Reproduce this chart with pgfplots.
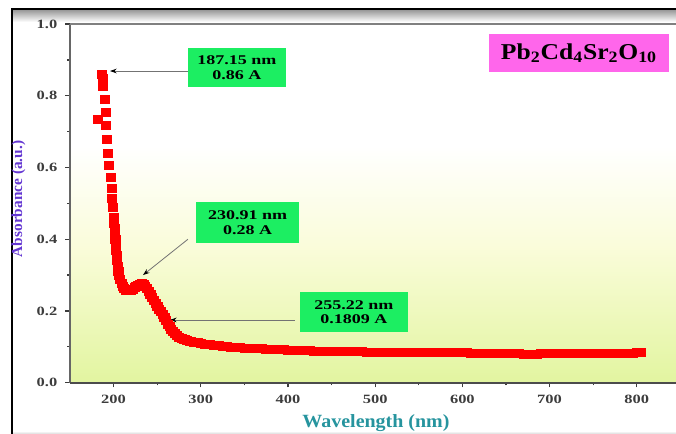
\documentclass[border=0pt]{standalone}
\usepackage{fontspec}
\setmainfont{Liberation Serif}
\usepackage{pgfplots}
\pgfplotsset{compat=1.18}
\usetikzlibrary{arrows.meta}
\definecolor{bgbot}{RGB}{226,245,160}
\definecolor{bgmid}{RGB}{250,252,218}
\definecolor{boxgreen}{RGB}{28,238,98}
\definecolor{boxpink}{RGB}{255,102,235}
\definecolor{ylabcol}{RGB}{100,55,210}
\definecolor{xlabcol}{RGB}{38,148,158}
\definecolor{tickcol}{RGB}{60,60,60}
\pgfdeclareverticalshading{bgshade}{100bp}{color(0bp)=(bgbot); color(25bp)=(bgbot); color(44bp)=(bgmid); color(58bp)=(white); color(100bp)=(white)}
\begin{document}
\begin{tikzpicture}
\useasboundingbox (0,0) rectangle (507pt,325.5pt);
\begin{scope}[x=0.75pt,y=0.75pt]
\shade[top color=black!40, bottom color=white] (12,412) rectangle (676,424);
\shade[top color=white, bottom color=black!15] (12,0) rectangle (676,3);
\draw[line width=1.8pt] (12,0) -- (12,425) -- (676,425);
\end{scope}
\begin{axis}[
  at={(52.5pt,38.475pt)}, anchor=south west,
  scale only axis, width=454.5pt, height=269pt,
  xmin=150, xmax=845, ymin=0, ymax=1,
  axis background/.style={shading=bgshade},
  axis line style={draw=none},
  xtick={200,300,...,800}, ytick={0,0.2,...,1.0},
  minor x tick num=1, minor y tick num=1,
  xtick pos=bottom, ytick pos=left,
  tick align=outside,
  major tick length=3.5pt, minor tick length=2pt,
  every tick/.style={tickcol, line width=1pt},
  scaled x ticks=false, scaled y ticks=false,
  /pgf/number format/assume math mode=true,
  ticklabel style={font=\bfseries\fontsize{9.5}{11}\selectfont, text=tickcol},
  xticklabel style={yshift=-2pt},
  yticklabel style={xshift=-2.5pt},
  xticklabel={\scalebox{1.3}[1]{\pgfmathprintnumber{\tick}}},
  yticklabel={\scalebox{1.3}[1]{\pgfmathprintnumber[fixed,fixed zerofill,precision=1]{\tick}}},
  clip=false,
]
\draw[black!60, line width=1.6pt] (rel axis cs:0,0) -- (rel axis cs:0,1);
\draw[black!50, line width=1.6pt] (rel axis cs:0,1) -- (rel axis cs:1,1);
\draw[black!70, line width=1.3pt] (rel axis cs:0,0) -- (rel axis cs:1,0);
\addplot[only marks, mark=square*, mark size=3pt, color=red, mark options={xscale=1.15}] table {
182 0.735
186.5 0.860
187.5 0.850
188 0.826
190 0.791
191 0.755
191.2 0.718
192.4 0.679
193.6 0.640
194.7 0.606
196.5 0.573
197.5 0.543
198.2 0.515
199 0.490
200 0.462
200.6 0.445
201 0.430
201.4 0.415
201.8 0.400
202.2 0.385
202.7 0.370
203.2 0.355
203.8 0.340
204.5 0.325
205.3 0.312
206.3 0.300
207.5 0.288
209 0.276
210.5 0.268
212 0.262
214 0.259
216 0.257
218 0.257
220 0.258
222 0.261
224 0.265
226 0.269
228 0.273
230 0.275
232 0.276
234 0.274
236 0.270
238 0.264
240 0.256
242 0.247
244 0.238
246 0.230
248 0.222
250 0.214
252 0.206
254 0.198
256 0.190
258 0.182
260 0.173
262 0.164
264 0.156
266 0.149
268 0.143
270 0.138
272 0.133
275 0.128
278 0.124
281 0.121
284 0.118
288 0.116
292 0.114
296 0.112
300 0.110
305 0.108
310 0.106
315 0.105
320 0.103
325 0.102
330 0.101
335 0.100
340 0.099
345 0.098
350 0.097
355 0.0965
360 0.096
365 0.0955
370 0.095
375 0.0945
380 0.094
385 0.093
390 0.0925
395 0.092
400 0.091
405 0.091
410 0.0905
415 0.0905
420 0.090
425 0.090
430 0.089
435 0.089
440 0.0885
445 0.0885
450 0.088
455 0.088
460 0.0875
465 0.0875
470 0.087
475 0.087
480 0.0865
485 0.0865
490 0.086
495 0.086
500 0.086
505 0.0855
510 0.0855
515 0.085
520 0.085
525 0.085
530 0.0848
535 0.0848
540 0.0845
545 0.0845
550 0.0843
555 0.0843
560 0.0842
565 0.0842
570 0.084
575 0.084
580 0.084
585 0.084
590 0.0838
595 0.0838
600 0.0835
605 0.0835
610 0.0833
615 0.0833
620 0.083
625 0.083
630 0.0828
635 0.0828
640 0.0825
645 0.0822
650 0.082
655 0.0818
660 0.0815
665 0.081
670 0.0805
675 0.080
680 0.080
685 0.0805
690 0.081
695 0.081
700 0.0812
705 0.0815
710 0.0815
715 0.0818
720 0.082
725 0.082
730 0.082
735 0.0822
740 0.0822
745 0.0825
750 0.0825
755 0.0825
760 0.0825
765 0.0828
770 0.0828
775 0.083
780 0.083
785 0.083
790 0.0832
795 0.0832
800 0.0835
805 0.0835
};
% annotations
\draw[black!55, line width=0.6pt, -{Stealth[black,length=5pt,width=3.5pt]}] (axis cs:285.3,0.869) -- (axis cs:195.9,0.869);
\draw[black!55, line width=0.6pt, -{Stealth[black,length=5pt,width=3.5pt]}] (axis cs:285.3,0.400) -- (axis cs:233.7,0.300);
\draw[black!55, line width=0.6pt, -{Stealth[black,length=5pt,width=3.5pt]}] (axis cs:408,0.175) -- (axis cs:264.7,0.175);
\node[fill=boxgreen, minimum width=73.5pt, minimum height=29.25pt, inner sep=0pt, align=center, font=\bfseries\fontsize{10}{11}\selectfont] at (axis cs:341.5,0.8787) {\scalebox{1.35}[1]{187.15 nm}\\\scalebox{1.35}[1]{0.86 A}};
\node[fill=boxgreen, minimum width=77.25pt, minimum height=30.75pt, inner sep=0pt, align=center, font=\bfseries\fontsize{10}{11}\selectfont] at (axis cs:353.6,0.4466) {\scalebox{1.35}[1]{230.91 nm}\\\scalebox{1.35}[1]{0.28 A}};
\node[fill=boxgreen, minimum width=81pt, minimum height=30pt, inner sep=0pt, align=center, font=\bfseries\fontsize{10}{11}\selectfont] at (axis cs:475.7,0.197) {\scalebox{1.35}[1]{255.22 nm}\\\scalebox{1.35}[1]{0.1809 A}};
\node[fill=boxpink, minimum width=135pt, minimum height=28.5pt, inner sep=0pt, font=\bfseries\fontsize{17}{20}\selectfont] at (axis cs:733.7,0.919) {\scalebox{1.13}[1]{Pb\textsubscript{2}Cd\textsubscript{4}Sr\textsubscript{2}O\textsubscript{10}}};
\end{axis}
\node[rotate=90, anchor=base, text=ylabcol, font=\bfseries\fontsize{11.5}{13}\selectfont] at (16.5pt,176.25pt) {Absorbance (a.u.)};
\node[anchor=base, text=xlabcol, font=\bfseries\fontsize{14}{16}\selectfont] at (282pt,4.5pt) {\scalebox{1.07}[1]{Wavelength (nm)}};
\end{tikzpicture}
\end{document}
